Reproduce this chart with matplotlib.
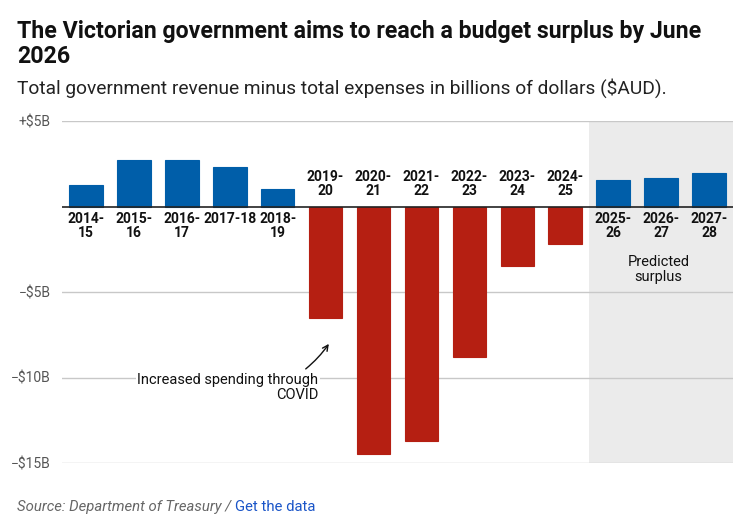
import matplotlib.pyplot as plt
import numpy as np

plt.rcParams['font.family'] = ['Roboto', 'DejaVu Sans']

years = ['2014-\n15', '2015-\n16', '2016-\n17', '2017-18', '2018-\n19', '2019-\n20', '2020-\n21',
         '2021-\n22', '2022-\n23', '2023-\n24', '2024-\n25', '2025-\n26', '2026-\n27', '2027-\n28']
surplus = [1.25, 2.7, 2.7, 2.3, 1.0, -6.5, -14.5, -13.7, -8.8, -3.5, -2.2, 1.55, 1.65, 1.95]
n_predicted = 3

yticks = [5, -5, -10, -15]
ytick_labels = ['+$5B', '\u2212$5B', '\u2212$10B', '\u2212$15B']

blue = '#005EA9'
red = '#B51F12'

W, H = 747, 524
fig = plt.figure(figsize=(W / 100, H / 100), dpi=100)

def fx(x):
    return x / W

def fy(y):
    return 1 - y / H

ax = fig.add_axes([fx(62), fy(463), fx(733) - fx(62), fy(121) - fy(463)])

x = np.arange(len(surplus))
colors = [blue if v > 0 else red for v in surplus]
ax.bar(x, surplus, width=0.7, color=colors, edgecolor=colors, linewidth=0.8, zorder=3)

# shaded forecast area
ax.axvspan(len(surplus) - n_predicted - 0.5, len(surplus) - 0.5, color='#EBEBEB', zorder=0, lw=0)

for t in yticks:
    ax.axhline(t, color='#C8C8C8', lw=1, zorder=1)
ax.axhline(0, color='#222222', lw=1.2, zorder=4)

ax.set_xlim(-0.5, len(surplus) - 0.5)
ax.set_ylim(-15, 5)
ax.set_xticks([])
ax.set_yticks(yticks)
ax.set_yticklabels(ytick_labels, color='#555555', fontsize=10)
ax.tick_params(axis='y', length=0, pad=8)
for s in ax.spines.values():
    s.set_visible(False)

# category labels on the opposite side of the zero line
for xi, v, lab in zip(x, surplus, years):
    if v > 0:
        ax.text(xi, -0.35, lab, ha='center', va='top', fontsize=10, fontweight='bold',
                color='#111111', linespacing=1.0, zorder=5)
    else:
        ax.text(xi, 0.5, lab, ha='center', va='bottom', fontsize=10, fontweight='bold',
                color='#111111', linespacing=1.0, zorder=5)

ax.annotate('', xy=(5.1, -7.9), xytext=(4.54, -9.6),
            arrowprops=dict(arrowstyle='->', color='#111111', lw=1,
                            connectionstyle='arc3,rad=0.08'), zorder=6)
ax.text(4.85, -9.75, 'Increased spending through\nCOVID', ha='right', va='top', fontsize=10.5,
        color='#111111', linespacing=1.05, zorder=6,
        bbox=dict(facecolor='white', edgecolor='none', pad=1))
ax.text(11.95, -3.7, 'Predicted\nsurplus', ha='center', va='center', fontsize=10.5,
        color='#111111', linespacing=1.05, zorder=6)

fig.text(fx(17), fy(20), 'The Victorian government aims to reach a budget surplus by June\n2026',
         ha='left', va='top', fontsize=16.7, fontweight='bold', color='#111111', linespacing=1.1)
fig.text(fx(17), fy(88), 'Total government revenue minus total expenses in billions of dollars ($AUD).',
         ha='left', va='center', fontsize=13.8, color='#222222')
src = fig.text(fx(17), fy(507), 'Source: Department of Treasury / ', ha='left', va='center',
               fontsize=10.7, style='italic', color='#666666')
fig.canvas.draw()
bb = src.get_window_extent()
fig.text(bb.x1 / fig.dpi / fig.get_figwidth(), fy(507), 'Get the data', ha='left', va='center',
         fontsize=10.7, color='#1A55C8')

fig.savefig('out.png', dpi=100)
